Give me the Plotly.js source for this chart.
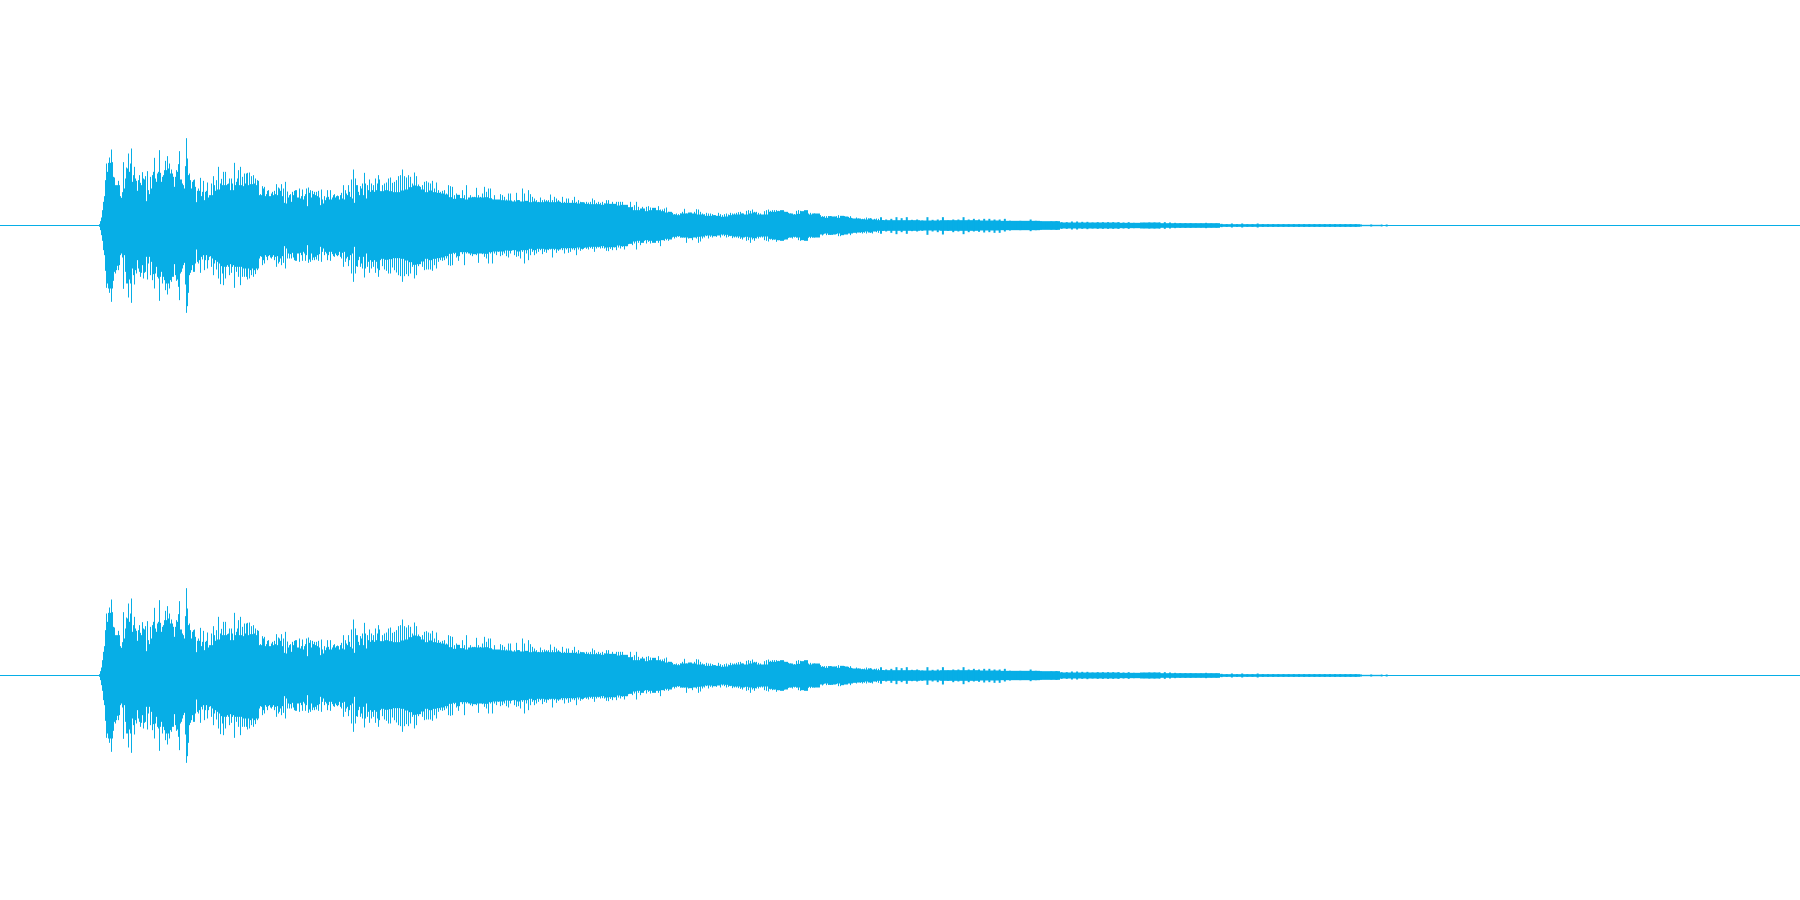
<!DOCTYPE html>
<html><head><meta charset="utf-8">
<script src="https://cdn.plot.ly/plotly-3.0.0.min.js"></script>
<style>html,body{margin:0;padding:0;background:#fff}#c{width:1800px;height:900px}</style>
</head><body><div id="c"></div>
<script>
// Waveform peak envelope (one channel, shown twice).
// Attack and body: one reading per time step of 1
const attackStart = 99, attackStep = 1;
const attackMax = [
4,13,24,46,71,88,136,186,161,188,204,188,228,190,146,144,121,121,121,134,
121,88,83,100,190,111,141,174,171,216,161,186,231,131,151,176,141,134,104,136,
151,128,121,160,141,138,148,73,163,106,94,146,111,151,161,203,141,131,156,161,
226,158,131,146,151,166,194,166,208,171,186,156,168,156,146,116,146,166,161,184,
223,138,138,126,121,111,178,262,201,151,156,136,111,131,136,138,116,70,104,111,
104,143,88,101,134,76,101,104,129,84,91,91,126,91,148,121,104,136,108,176,
108,126,140,121,161,121,161,121,124,126,141,106,141,126,106,188,121,131,141,166,
121,176,121,146,118,156,126,156,158,121,159,124,148,124,151,126,141,121,136,134,
91,94,91,118,111,116,88,94,104,106,88,88,96,101,91,104,94,124,91,114,
111,104,124,88,111,68,131,66,102,84,91,94,71,101,91,104,106,106,84,84,
111,81,88,108,78,88,94,111,58,114,98,106,84,104,94,101,91,101,88,104,
84,61,108,78,66,88,76,84,106,86,78,106,78,84,91,94,84,88,90,88,
78,91,98,81,121,78,106,96,91,121,101,86,138,81,168,68,141,121,121,101,
91,118,111,126,91,158,126,81,121,106,138,101,126,106,121,101,141,106,126,151,138];
const attackMin = [
-4,-14,-29,-46,-74,-89,-136,-187,-174,-189,-202,-189,-229,-189,-166,-139,-144,-134,-121,-134,
-119,-89,-84,-96,-190,-89,-139,-174,-174,-216,-162,-174,-232,-129,-149,-177,-134,-144,-104,-129,
-139,-154,-142,-119,-159,-142,-139,-94,-162,-114,-94,-149,-109,-164,-146,-189,-144,-124,-154,-159,
-226,-154,-139,-174,-154,-164,-194,-174,-207,-174,-189,-164,-169,-154,-154,-116,-149,-166,-162,-184,
-224,-144,-139,-129,-119,-112,-177,-262,-242,-202,-149,-142,-134,-119,-139,-139,-114,-72,-109,-114,
-104,-142,-94,-102,-89,-134,-104,-89,-129,-104,-94,-92,-124,-99,-149,-114,-104,-132,-109,-159,
-114,-176,-122,-144,-179,-124,-159,-124,-119,-124,-149,-116,-142,-124,-119,-187,-124,-139,-124,-154,
-124,-179,-124,-154,-129,-154,-129,-154,-162,-129,-159,-134,-149,-129,-154,-134,-146,-129,-134,-129,
-99,-92,-94,-119,-104,-114,-89,-94,-104,-92,-89,-96,-99,-94,-89,-104,-94,-124,-92,-114,
-109,-99,-119,-92,-112,-62,-129,-69,-99,-84,-99,-86,-99,-82,-96,-104,-106,-106,-84,-84,
-109,-82,-89,-106,-79,-84,-106,-89,-59,-112,-102,-109,-84,-104,-96,-104,-94,-102,-89,-106,
-86,-64,-109,-79,-69,-89,-79,-84,-104,-89,-79,-106,-79,-86,-92,-94,-84,-89,-92,-89,
-79,-94,-99,-82,-124,-79,-109,-99,-94,-122,-104,-89,-144,-84,-169,-64,-144,-122,-124,-104,
-94,-124,-114,-129,-94,-156,-129,-84,-124,-109,-142,-104,-129,-109,-124,-104,-142,-109,-129,-154,-134];

// Decay spikes: one reading per time step of 2
const decayStart = 380, decayStep = 2;
const decayMax = [
101,121,126,129,141,144,128,131,136,148,151,168,148,144,151,146,126,159,148,123,
116,121,131,133,129,126,134,111,129,106,101,104,106,96,121,118,116,91,96,91,
81,106,91,121,81,91,86,86,113,91,86,96,116,101,111,111,78,91,76,71,
94,91,86,78,96,96,71,76,98,76,71,111,96,71,106,94,86,81,76,71,
84,76,78,76,76,93,76,86,81,76,71,86,71,81,81,66,76,86,71,76,
71,68,69,71,69,71,81,76,68,71,68,71,66,76,76,61,71,61,71,71,
71,71,61,51,48,71,56,61,71,56,46,56,51,56,58,54,51,46,41,58,
48,48,51,54,41,36,38,34,36,34,36,41,50,36,36,38,31,41,49,48,
41,36,34,38,36,36,34,31,26,38,34,31,34,36,33,38,36,36,38,40,
41,36,29,44,46,44,48,41,41,38,36,29,43,46,48,44,46,46,46,44,
42,42,41,36,38,36,36,34,44,46,44,39,36,34,36,38,34,36,31,26,
31,28,28,28,28,28,23,26,28,31,28,21,28,23,26,28,21,18,24,21,
21,20,21,24,21,22,16,20,21,20];
const decayMin = [
-104,-122,-132,-136,-144,-144,-126,-134,-141,-149,-152,-169,-152,-146,-152,-144,-124,-159,-149,-122,
-116,-124,-134,-132,-132,-132,-136,-119,-129,-109,-104,-106,-104,-99,-119,-121,-119,-86,-96,-106,
-76,-86,-119,-84,-79,-89,-92,-86,-89,-112,-64,-86,-94,-99,-114,-84,-114,-84,-89,-79,
-92,-89,-84,-92,-96,-84,-74,-89,-94,-92,-99,-79,-114,-84,-104,-89,-79,-89,-84,-79,
-74,-86,-79,-82,-74,-72,-96,-74,-82,-76,-72,-74,-84,-72,-82,-79,-72,-74,-89,-72,
-76,-72,-67,-70,-72,-68,-70,-79,-69,-66,-69,-68,-69,-76,-77,-70,-74,-66,-74,-66,
-69,-64,-72,-62,-56,-49,-59,-54,-72,-52,-59,-44,-46,-54,-49,-54,-49,-49,-44,-52,
-62,-39,-46,-44,-46,-39,-36,-39,-36,-34,-36,-36,-36,-52,-39,-36,-44,-32,-39,-52,
-48,-39,-36,-32,-39,-34,-36,-32,-34,-26,-36,-30,-32,-36,-34,-32,-38,-36,-36,-38,
-40,-42,-36,-46,-44,-52,-42,-46,-39,-39,-36,-36,-44,-46,-48,-42,-44,-42,-49,-44,
-42,-42,-42,-40,-37,-36,-39,-36,-36,-44,-46,-42,-39,-38,-37,-38,-36,-36,-34,-32,
-24,-30,-24,-29,-28,-28,-28,-26,-26,-32,-32,-28,-16,-24,-22,-29,-24,-19,-24,-20,
-22,-24,-22,-24,-20,-22,-24,-17,-20,-22];

// Decay solid body: one reading per time step of 4
const bodyStart = 380, bodyStep = 4;
const bodyMax = [
103,106,103,100,100,105,108,115,120,118,108,100,105,100,98,96,93,85,80,92,
82,78,84,85,84,84,85,82,78,78,76,75,75,72,76,72,74,70,72,70,
70,72,70,70,72,68,68,68,68,66,70,65,64,64,64,62,66,65,65,60,
62,62,55,
46,46,51,43,46,53,46,43,39,41,33,31,36,36,39,36,33,33,29,29,
31,29,26,27,31,33,33,36,33,36,39,33,33,33,41,41,43,46,41,36,
33,35,43,46,33,36,36,26,23,28,27,23,29,27,23,21,21,19,18,21,
18,16,16];
const bodyMin = [
-100,-103,-101,-98,-98,-100,-105,-110,-118,-116,-108,-100,-104,-100,-98,-96,-92,-85,-82,-92,
-80,-80,-84,-86,-84,-84,-85,-80,-78,-78,-78,-75,-76,-74,-78,-74,-74,-70,-74,-70,
-70,-72,-70,-70,-72,-68,-68,-68,-68,-66,-70,-66,-64,-64,-64,-62,-66,-65,-65,-60,
-62,-62,-55,
-48,-46,-52,-44,-46,-52,-46,-44,-40,-42,-34,-32,-36,-36,-38,-36,-34,-33,-30,-30,
-32,-30,-27,-28,-31,-33,-33,-36,-34,-36,-38,-34,-33,-33,-40,-42,-44,-46,-42,-36,
-34,-36,-44,-46,-34,-36,-36,-27,-24,-28,-27,-24,-29,-27,-24,-22,-21,-20,-18,-21,
-18,-16,-16];

// Tail spikes: one reading per time step of 5.16
const tailStart = 880, tailStep = 5.16;
const tailMax = [
25,18,20,25,22,25,17,18,15,25,17,18,25,15,18,18,25,18,20,18,
20,20,18,18,20,14,12,14,12,18,14,12,9,12,13,10,10,12,12,11,
11,9,10,10,10,10,10,9,10,8,7,8,9,9,9,10,9,8,7,7,
7,6,6,8,6,6,5,4,6,4,6,4,4,6,4,4,4,4,4,4,
4,4,4,4,4,4,4,4,4,4,4,4,4,3,1,3,1,3,3];
const tailMin = [
-25,-18,-22,-26,-20,-25,-17,-18,-16,-28,-18,-20,-27,-16,-20,-18,-26,-20,-18,-19,
-21,-20,-22,-22,-18,-15,-12,-14,-12,-17,-14,-12,-10,-12,-13,-10,-10,-12,-12,-10,
-11,-9,-10,-10,-10,-10,-10,-9,-10,-8,-7,-8,-9,-9,-9,-10,-9,-8,-7,-7,
-7,-6,-6,-8,-6,-6,-5,-4,-6,-4,-6,-4,-4,-6,-4,-4,-4,-4,-4,-4,
-4,-4,-4,-4,-4,-4,-4,-4,-4,-4,-4,-4,-4,-3,-1,-3,-1,-3,-3];

// Tail solid body: one reading per time step of 20
const tailBodyStart = 880, tailBodyStep = 20;
const tailBodyMax = [16,16,15,16,16,15,14,14,13,9,9,9,8,9,7,7,7,4,4,4,4,4,4,4,2];
const tailBodyMin = [-16,-16,-15,-16,-16,-15,-14,-14,-13,-9,-9,-9,-8,-9,-7,-7,-7,-4,-4,-4,-4,-4,-4,-4,-2];

const waveColor = '#07aee6';
const baselineTime = [0, 1800];
const baselineValue = [0, 0];

function columns(start, step, width, hi, lo, xa, ya) {
  const xs = [], ys = [];
  hi.forEach((v, i) => {
    const t = start + step * i + width / 2;
    xs.push(t, t, null);
    ys.push(lo[i], v, null);
  });
  return {type:'scatter', mode:'lines', x:xs, y:ys, xaxis:xa, yaxis:ya,
          hoverinfo:'skip', connectgaps:false,
          line:{color:waveColor, width:width}};
}
function channel(xa, ya) {
  return [
    {type:'scatter', mode:'lines', x:baselineTime, y:baselineValue, xaxis:xa, yaxis:ya,
     hoverinfo:'skip', line:{color:waveColor, width:1}},
    columns(attackStart, attackStep, 1, attackMax, attackMin, xa, ya),
    columns(bodyStart, bodyStep, bodyStep, bodyMax, bodyMin, xa, ya),
    columns(decayStart, decayStep, 1, decayMax, decayMin, xa, ya),
    columns(tailBodyStart, tailBodyStep, tailBodyStep, tailBodyMax, tailBodyMin, xa, ya),
    columns(tailStart, tailStep, 2, tailMax, tailMin, xa, ya)
  ];
}
const hiddenX = {visible:false, range:[0,1800], fixedrange:true};
const yRange = [-673.5, 676.5];
const layout = {
  width:1800, height:900, showlegend:false,
  paper_bgcolor:'#ffffff', plot_bgcolor:'#ffffff',
  margin:{l:0,r:0,t:0,b:0},
  xaxis:Object.assign({anchor:'y'}, hiddenX),
  xaxis2:Object.assign({anchor:'y2'}, hiddenX),
  yaxis:{visible:false, domain:[0.5,1], range:yRange, fixedrange:true},
  yaxis2:{visible:false, domain:[0,0.5], range:yRange, fixedrange:true}
};
Plotly.newPlot('c', channel('x','y').concat(channel('x2','y2')), layout, {displayModeBar:false, staticPlot:true});
</script>
</body></html>
